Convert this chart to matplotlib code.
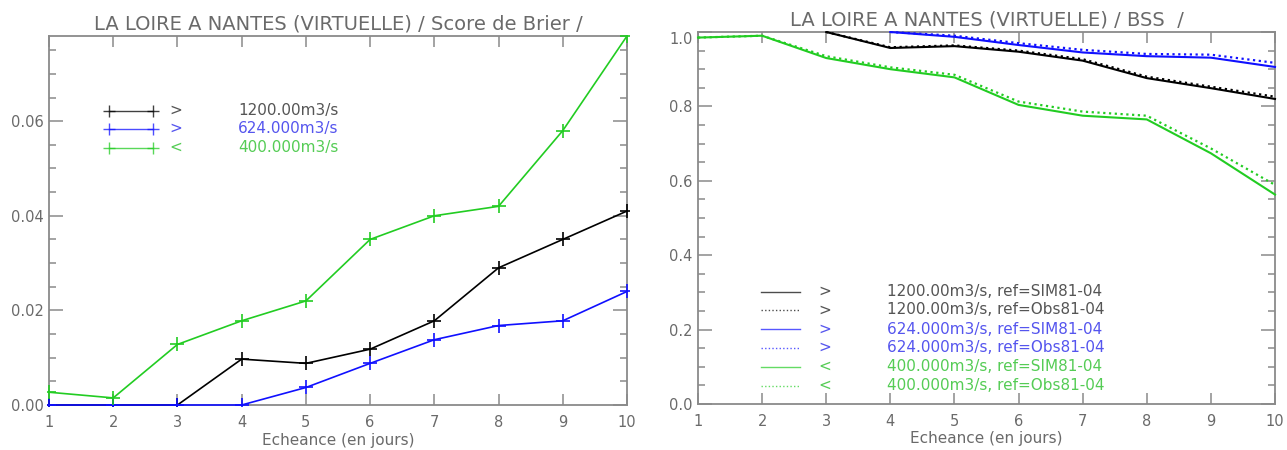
import matplotlib
matplotlib.use('Agg')
import matplotlib.pyplot as plt
import matplotlib.transforms as mtransforms
from matplotlib.patches import Rectangle
import numpy as np
from matplotlib.ticker import MultipleLocator, FixedLocator

nan = np.nan

# ---------------- data ----------------
lead_days = [1, 2, 3, 4, 5, 6, 7, 8, 9, 10]

# Brier score (left panel)
bs_1200 = [0.0, 0.0, 0.0, 0.0097, 0.0088, 0.0118, 0.0178, 0.0290, 0.0350, 0.0410]
bs_624 = [0.0, 0.0, 0.0, 0.0, 0.0037, 0.0088, 0.0138, 0.0168, 0.0178, 0.0240]
bs_400 = [0.0027, 0.0015, 0.0128, 0.0178, 0.0220, 0.0350, 0.0400, 0.0420, 0.0580, 0.0780]

# Brier skill score (right panel)
bss_1200_sim = [nan, nan, 1.000, 0.957, 0.962, 0.947, 0.923, 0.876, 0.849, 0.820]
bss_1200_obs = [nan, nan, 1.000, 0.959, 0.964, 0.950, 0.927, 0.880, 0.853, 0.826]
bss_624_sim = [nan, nan, nan, 1.000, 0.987, 0.965, 0.945, 0.935, 0.931, 0.906]
bss_624_obs = [nan, nan, nan, 1.000, 0.990, 0.970, 0.952, 0.941, 0.939, 0.917]
bss_400_sim = [0.985, 0.990, 0.930, 0.900, 0.878, 0.804, 0.775, 0.765, 0.674, 0.563]
bss_400_obs = [0.985, 0.990, 0.935, 0.905, 0.885, 0.813, 0.786, 0.775, 0.687, 0.589]

x_tick_labels = ['1', '2', '3', '4', '5', '6', '7', '8', '9', '10']
left_yticks = [0.00, 0.02, 0.04, 0.06]
right_yticks = [0.0, 0.2, 0.4, 0.6, 0.8, 1.0]

thresholds_left = [('>', '1200.00m3/s'), ('>', '624.000m3/s'), ('<', '400.000m3/s')]
thresholds_right = [('>', '1200.00m3/s, ref=SIM81-04'), ('>', '1200.00m3/s, ref=Obs81-04'),
                    ('>', '624.000m3/s, ref=SIM81-04'), ('>', '624.000m3/s, ref=Obs81-04'),
                    ('<', '400.000m3/s, ref=SIM81-04'), ('<', '400.000m3/s, ref=Obs81-04')]

title_left = 'LA LOIRE A NANTES (VIRTUELLE) / Score de Brier /'
title_right = 'LA LOIRE A NANTES (VIRTUELLE) / BSS  /'
xlabel = 'Echeance (en jours)'

# ---------------- style ----------------
C_BLACK = '#000000'
C_BLUE = '#1010ff'
C_GREEN = '#22cc22'
T_BLACK = '#555555'
T_BLUE = '#5555ee'
T_GREEN = '#55cc55'
AX_C = '#8a8a8a'
TXT_C = '#6a6a6a'
DOT = (0, (1.0, 1.6))

plt.rcParams['font.family'] = ['DejaVu Sans']

W, H = 1287, 450
fig = plt.figure(figsize=(W / 100, H / 100), dpi=100)

def frac(x0, x1, ytop, ybot):
    return [x0 / W, (H - ybot) / H, (x1 - x0) / W, (ybot - ytop) / H]

axL = fig.add_axes(frac(49, 627, 36, 405))
axR = fig.add_axes(frac(698, 1275, 32, 404))


def style_axes(ax, ymax, yminor, yticks, yfmt):
    ax.set_xlim(1, 10)
    ax.set_ylim(0, ymax)
    ax.xaxis.set_major_locator(FixedLocator(lead_days))
    ax.set_xticklabels(x_tick_labels)
    ax.yaxis.set_major_locator(FixedLocator(yticks))
    ax.yaxis.set_minor_locator(MultipleLocator(yminor))
    ax.set_yticklabels([yfmt.format(v) for v in yticks])
    for s in ax.spines.values():
        s.set_color(AX_C)
        s.set_linewidth(1.3)
    ax.tick_params(axis='both', which='both', direction='in', colors=AX_C,
                   labelcolor=TXT_C, labelsize=10.5, top=True, right=True, width=1.1)
    ax.tick_params(axis='x', which='major', length=8, pad=7)
    ax.tick_params(axis='y', which='major', length=10, pad=4)
    ax.tick_params(axis='y', which='minor', length=5)
    ax.tick_params(axis='x', which='minor', bottom=False, top=False)
    ax.set_xlabel(xlabel, color=TXT_C, fontsize=11, labelpad=2)


def clip_rect(ax, pad):
    # slightly enlarged clip region so lines lying on the frame stay visible
    r = Rectangle((-pad, -pad), 1 + 2 * pad, 1 + 2 * pad, transform=ax.transAxes,
                  fill=False, visible=False)
    ax.add_patch(r)
    return r


# ---------------- left panel ----------------
style_axes(axL, 0.078, 0.005, left_yticks, '{:.2f}')
cL = clip_rect(axL, 0.004)
mk = dict(marker='+', markersize=10, markeredgewidth=1.2)
for vals, col in [(bs_1200, C_BLACK), (bs_624, C_BLUE), (bs_400, C_GREEN)]:
    ln, = axL.plot(lead_days, vals, color=col, lw=1.2, zorder=3, **mk)
    ln.set_clip_path(cL)
axL.set_title(title_left, color=TXT_C, fontsize=14, pad=5)

lcol = [C_BLACK, C_BLUE, C_GREEN]
tcol = [T_BLACK, T_BLUE, T_GREEN]
rows_l = [0.7976, 0.7488, 0.6973]
for (sym, lab), yy, lc, tc in zip(thresholds_left, rows_l, lcol, tcol):
    axL.plot([0.104, 0.180], [yy, yy], transform=axL.transAxes, color=lc, lw=1.0,
             marker='+', markersize=9, markeredgewidth=1.0, markevery=[0, 1], alpha=0.75)
    axL.text(0.22, yy, sym, transform=axL.transAxes, color=tc, fontsize=11,
             ha='center', va='center')
    axL.text(0.327, yy, lab, transform=axL.transAxes, color=tc, fontsize=11,
             ha='left', va='center')

# ---------------- right panel ----------------
style_axes(axR, 1.0, 0.05, right_yticks, '{:.1f}')
lbl_top = axR.get_yticklabels()[-1]
lbl_top.set_transform(lbl_top.get_transform() +
                      mtransforms.ScaledTranslation(0, -6 / 100, fig.dpi_scale_trans))
cR = clip_rect(axR, 0.004)
series_r = [(bss_1200_obs, C_BLACK, DOT, 1.6), (bss_1200_sim, C_BLACK, '-', 1.5),
            (bss_624_obs, C_BLUE, DOT, 1.6), (bss_624_sim, C_BLUE, '-', 1.5),
            (bss_400_obs, C_GREEN, DOT, 1.6), (bss_400_sim, C_GREEN, '-', 1.5)]
for vals, col, ls, lw in series_r:
    ln, = axR.plot(lead_days, vals, color=col, lw=lw, ls=ls, zorder=3)
    ln.set_clip_path(cR)
axR.set_title(title_right, color=TXT_C, fontsize=14, pad=5)

lcol_r = [C_BLACK, C_BLACK, C_BLUE, C_BLUE, C_GREEN, C_GREEN]
tcol_r = [T_BLACK, T_BLACK, T_BLUE, T_BLUE, T_GREEN, T_GREEN]
ls_r = ['-', DOT, '-', DOT, '-', DOT]
rows_r = [0.3019, 0.2527, 0.2008, 0.1513, 0.1003, 0.0492]
for (sym, lab), yy, lc, tc, ls in zip(thresholds_right, rows_r, lcol_r, tcol_r, ls_r):
    axR.plot([0.110, 0.177], [yy, yy], transform=axR.transAxes, color=lc, lw=1.0,
             ls=ls, alpha=0.7)
    axR.text(0.22, yy, sym, transform=axR.transAxes, color=tc, fontsize=11,
             ha='center', va='center')
    axR.text(0.327, yy, lab, transform=axR.transAxes, color=tc, fontsize=11,
             ha='left', va='center')

fig.savefig('out.png', dpi=100, facecolor='white')
